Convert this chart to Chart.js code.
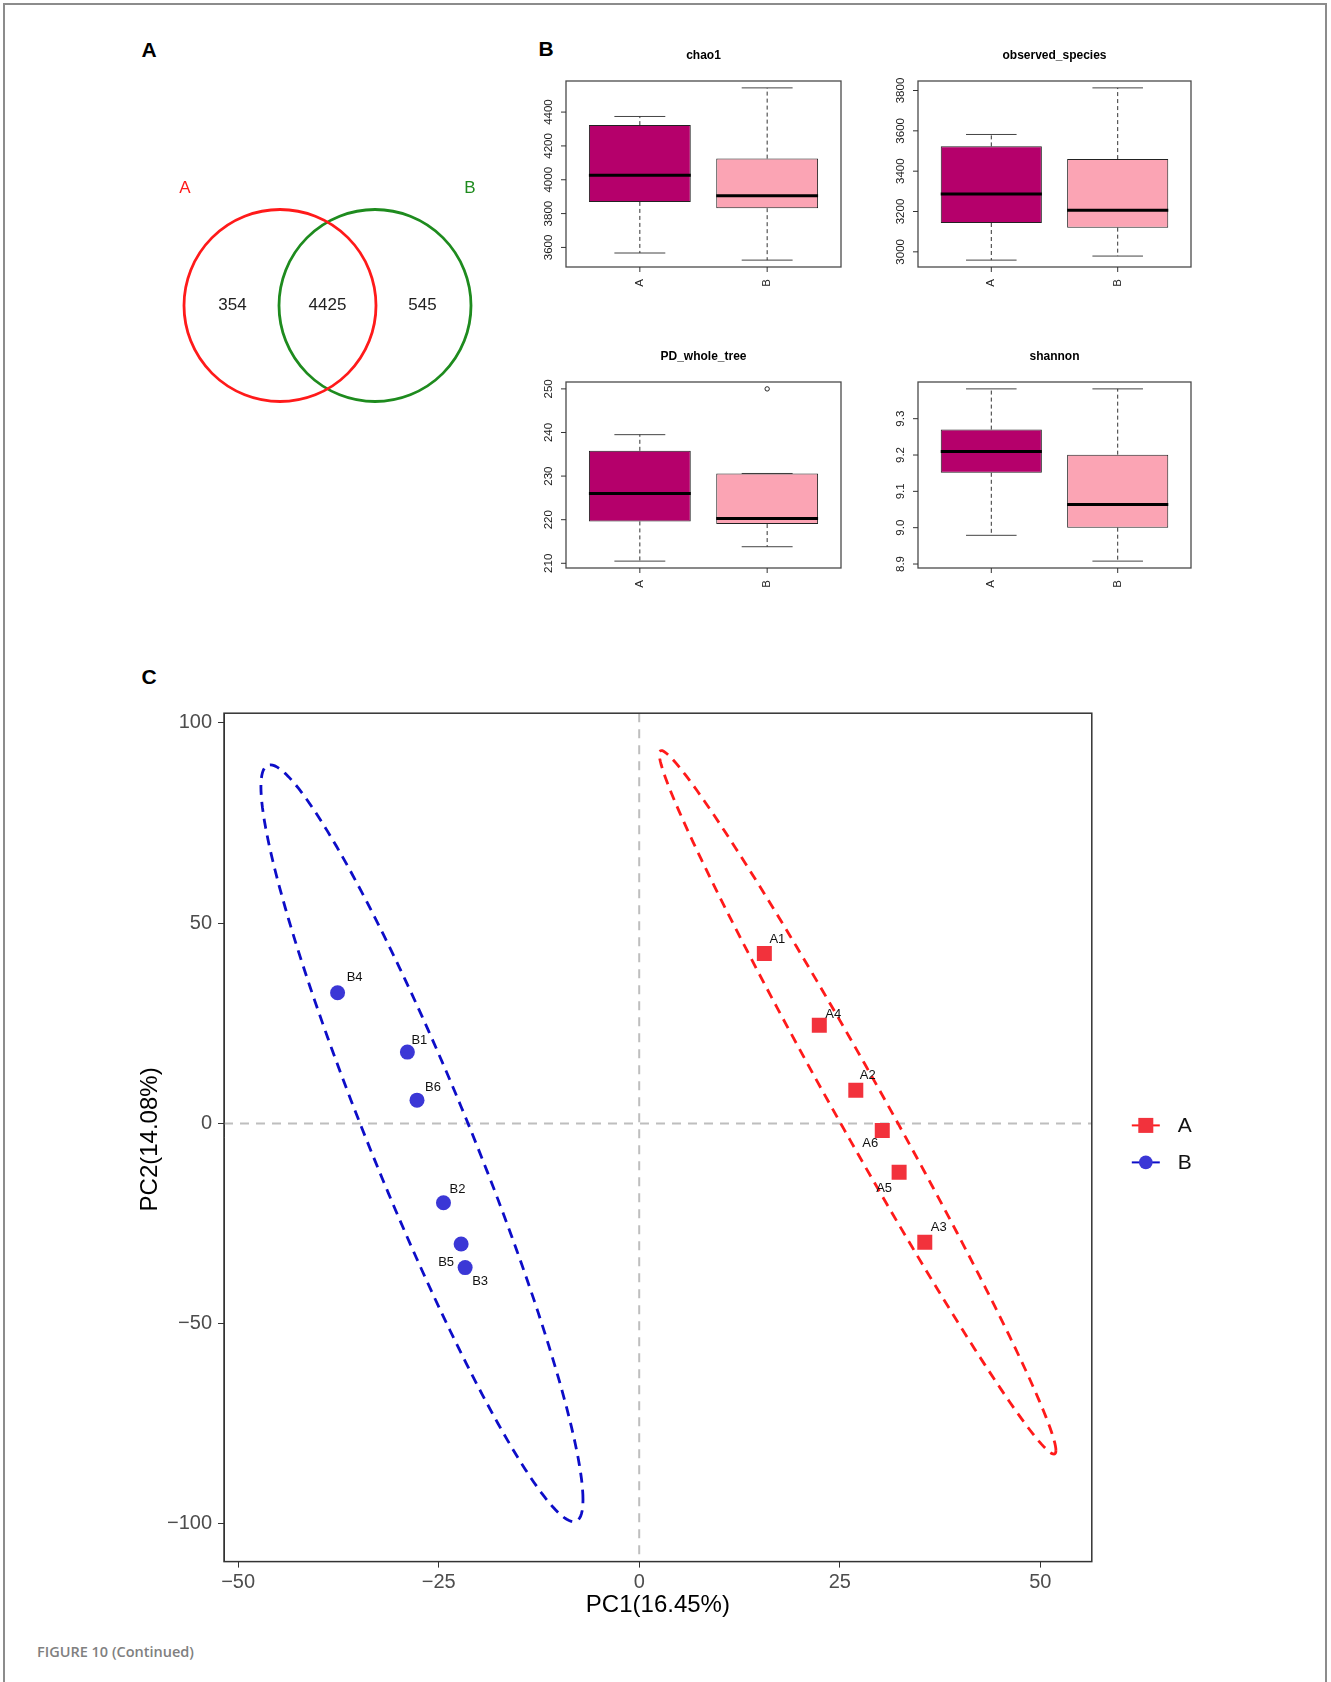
<!DOCTYPE html>
<html>
<head>
<meta charset="utf-8">
<script src="https://cdn.jsdelivr.net/npm/chart.js@4.4.0/dist/chart.umd.min.js"></script>
<style>
  body { margin: 0; background: #fff; }
  #page { position: relative; width: 1331px; height: 1682px; overflow: hidden; font-family: "Liberation Sans", Arial, sans-serif; }
  #frame { position: absolute; left: 3px; top: 3px; width: 1320px; height: 1720px; border: 2px solid #8c8c8c; }
  .tag { position: absolute; font-weight: bold; font-size: 21px; transform: translate(-50%, -50%); color: #000; }
  canvas { position: absolute; }
  #caption { position: absolute; left: 37px; top: 1642px; font-family: "Open Sans", sans-serif; font-weight: 600; font-size: 14.5px; color: #808080; }
</style>
</head>
<body>
<div id="page">
  <div id="frame"></div>
  <div class="tag" style="left:149px; top:50px">A</div>
  <div class="tag" style="left:546px; top:49px">B</div>
  <div class="tag" style="left:149px; top:677px">C</div>
  <div id="caption">FIGURE 10 (Continued)</div>
</div>
<script>
// ---- panel A : venn
const vennSets = ['A', 'B'];
const vennCounts = [354, 4425, 545]; // A only, shared, B only

// ---- panel B : alpha diversity, [lower whisker, Q1, median, Q3, upper whisker]
const boxGroups = ['A', 'B'];
const boxMetrics = ['chao1', 'observed_species', 'PD_whole_tree', 'shannon'];
const chao1A = [3567, 3869, 4027, 4323, 4374];
const chao1B = [3525, 3832, 3905, 4125, 4543];
const observedA = [2959, 3143, 3287, 3523, 3582];
const observedB = [2979, 3120, 3206, 3460, 3813];
const pdA = [210.5, 219.6, 226.0, 235.8, 239.5];
const pdB = [213.8, 219.0, 220.3, 230.6, 230.6];
const pdOutliersB = [250.0];
const shannonA = [8.979, 9.151, 9.210, 9.270, 9.382];
const shannonB = [8.908, 9.000, 9.064, 9.201, 9.382];
const chao1Ticks = [3600, 3800, 4000, 4200, 4400];
const observedTicks = [3000, 3200, 3400, 3600, 3800];
const pdTicks = [210, 220, 230, 240, 250];
const shannonTicks = [8.9, 9.0, 9.1, 9.2, 9.3];

// ---- panel C : PCA
const sampleA = ['A1', 'A2', 'A3', 'A4', 'A5', 'A6'];
const pc1A = [15.6, 27.0, 35.6, 22.45, 32.4, 30.3];
const pc2A = [42.4, 8.3, -29.7, 24.5, -12.2, -1.8];
const sampleB = ['B1', 'B2', 'B3', 'B4', 'B5', 'B6'];
const pc1B = [-28.9, -24.4, -21.7, -37.6, -22.2, -27.7];
const pc2B = [17.8, -19.8, -36.0, 32.6, -30.1, 5.8];
const pc1Ticks = [-50, -25, 0, 25, 50];
const pc2Ticks = [-100, -50, 0, 50, 100];
const pcAxisTitles = ['PC1(16.45%)', 'PC2(14.08%)'];

// label nudges in px (like ggrepel put them)
const labelNudge = {
  A1: [13, -14], A2: [12, -15], A3: [14, -15], A4: [14, -11], A5: [-15, 16], A6: [-12, 13],
  B1: [12, -12], B2: [14, -13], B3: [15, 14], B4: [17, -15], B5: [-15, 18], B6: [16, -13]
};

const FONT = '"Liberation Sans", Arial, sans-serif';
const page = document.getElementById('page');

function addCanvas(id, left, top, w, h) {
  const c = document.createElement('canvas');
  c.id = id;
  c.width = w; c.height = h;
  c.style.left = left + 'px'; c.style.top = top + 'px';
  c.style.width = w + 'px'; c.style.height = h + 'px';
  page.appendChild(c);
  return c;
}

const baseOpts = {
  responsive: false,
  animation: false,
  events: [],
  plugins: { legend: { display: false }, tooltip: { enabled: false } }
};

// ================= Venn =================
const VENN_UNIT = 95;   // px between circle centres
const VENN_R = 96;      // circle radius px
const vennColors = ['#FF1A1A', '#1E8B1E'];
const vennW = 400, vennH = 280, vennCx = 199.5, vennCy = 155.5;

const vennText = {
  id: 'vennText',
  afterDraw(chart) {
    const { ctx, scales: { x, y } } = chart;
    ctx.save();
    ctx.textAlign = 'center';
    ctx.textBaseline = 'middle';
    ctx.font = '17px ' + FONT;
    ctx.fillStyle = '#222';
    vennCounts.forEach((n, i) => {
      ctx.fillText(String(n), x.getPixelForValue(i - 1), y.getPixelForValue(0));
    });
    vennSets.forEach((s, i) => {
      ctx.fillStyle = vennColors[i];
      ctx.fillText(s, x.getPixelForValue(i === 0 ? -1.5 : 1.5), y.getPixelForValue(1.234));
    });
    ctx.restore();
  }
};

new Chart(addCanvas('venn', 128, 150, vennW, vennH), {
  type: 'scatter',
  data: {
    datasets: vennSets.map((s, i) => ({
      label: s,
      data: [{ x: i === 0 ? -0.5 : 0.5, y: 0 }],
      pointRadius: VENN_R,
      pointStyle: 'circle',
      pointBackgroundColor: 'rgba(0,0,0,0)',
      pointBorderColor: vennColors[i],
      pointBorderWidth: 2.8,
      clip: false
    }))
  },
  options: {
    ...baseOpts,
    layout: { padding: 0, autoPadding: false },
    scales: {
      x: { type: 'linear', display: false, min: -vennCx / VENN_UNIT, max: (vennW - vennCx) / VENN_UNIT },
      y: { type: 'linear', display: false, min: -(vennH - vennCy) / VENN_UNIT, max: vennCy / VENN_UNIT }
    }
  },
  plugins: [vennText]
});

// ================= Boxplots =================
const BOX_FILLS = ['#B5006B', '#FBA4B4'];
const BOX_WIDTH = 0.8;
const PAD = { l: 50, t: 45, r: 10, b: 35 };

const boxPanels = [
  { id: 'bx1', title: boxMetrics[0], stats: [chao1A, chao1B], outliers: [[], []], ticks: chao1Ticks, digits: 0, frame: { l: 566, t: 81, r: 841, b: 267 } },
  { id: 'bx2', title: boxMetrics[1], stats: [observedA, observedB], outliers: [[], []], ticks: observedTicks, digits: 0, frame: { l: 918, t: 81, r: 1191, b: 267 } },
  { id: 'bx3', title: boxMetrics[2], stats: [pdA, pdB], outliers: [[], pdOutliersB], ticks: pdTicks, digits: 0, frame: { l: 566, t: 382, r: 841, b: 568 } },
  { id: 'bx4', title: boxMetrics[3], stats: [shannonA, shannonB], outliers: [[], []], ticks: shannonTicks, digits: 1, frame: { l: 918, t: 382, r: 1191, b: 568 } }
];
const panelByCanvas = {};

function rotatedText(ctx, text, x, y) {
  ctx.save();
  ctx.translate(x, y);
  ctx.rotate(-Math.PI / 2);
  ctx.fillText(text, 0, 0);
  ctx.restore();
}

const boxAxes = {
  id: 'boxAxes',
  afterDraw(chart) {
    const cfg = panelByCanvas[chart.canvas.id];
    const { ctx, chartArea: a, scales: { x, y } } = chart;
    ctx.save();
    ctx.strokeStyle = '#4a4a4a';
    ctx.lineWidth = 1.3;
    ctx.strokeRect(a.left, a.top, a.right - a.left, a.bottom - a.top);
    ctx.strokeStyle = '#333';
    ctx.lineWidth = 1;
    ctx.fillStyle = '#222';
    ctx.font = '11.5px ' + FONT;
    ctx.textAlign = 'center';
    ctx.textBaseline = 'middle';
    cfg.ticks.forEach(v => {
      const py = y.getPixelForValue(v);
      ctx.beginPath(); ctx.moveTo(a.left - 5, py); ctx.lineTo(a.left, py); ctx.stroke();
      rotatedText(ctx, v.toFixed(cfg.digits), a.left - 17, py);
    });
    boxGroups.forEach((g, i) => {
      const px = x.getPixelForValue(i + 1);
      ctx.beginPath(); ctx.moveTo(px, a.bottom); ctx.lineTo(px, a.bottom + 5); ctx.stroke();
      rotatedText(ctx, g, px, a.bottom + 16);
    });
    ctx.fillStyle = '#000';
    ctx.font = 'bold 12px ' + FONT;
    ctx.fillText(cfg.title, (a.left + a.right) / 2, a.top - 25);
    ctx.restore();
  }
};

function seg(points, extra) {
  return Object.assign({ type: 'line', data: points, pointRadius: 0, borderWidth: 1, borderColor: '#333', fill: false, tension: 0 }, extra);
}

boxPanels.forEach(p => {
  panelByCanvas[p.id] = p;
  const f = p.frame;
  const cw = (f.r - f.l) + PAD.l + PAD.r;
  const ch = (f.b - f.t) + PAD.t + PAD.b;
  const canvas = addCanvas(p.id, f.l - PAD.l, f.t - PAD.t, cw, ch);

  const all = p.stats.flat().concat(p.outliers.flat());
  const lo = Math.min(...all), hi = Math.max(...all);
  const ext = (hi - lo) * 0.04;
  const xlo = 0.5 - 0.04 * boxGroups.length, xhi = boxGroups.length + 0.5 + 0.04 * boxGroups.length;

  const datasets = [];
  p.stats.forEach((s, i) => {
    datasets.push(seg([{ x: i + 1 - BOX_WIDTH / 2, y: s[2] }, { x: i + 1 + BOX_WIDTH / 2, y: s[2] }],
      { borderColor: '#000', borderWidth: 3, order: 0 }));
  });
  datasets.push({
    type: 'bar',
    data: p.stats.map((s, i) => ({ x: i + 1, y: [s[1], s[3]] })),
    backgroundColor: BOX_FILLS,
    borderColor: '#222',
    borderWidth: 1,
    borderSkipped: false,
    barPercentage: BOX_WIDTH,
    categoryPercentage: 1,
    order: 1
  });
  p.stats.forEach((s, i) => {
    const cx = i + 1;
    [[s[3], s[4]], [s[1], s[0]]].forEach(([from, to]) => {
      datasets.push(seg([{ x: cx, y: from }, { x: cx, y: to }], { borderDash: [4, 3], order: 2 }));
      datasets.push(seg([{ x: cx - BOX_WIDTH / 4, y: to }, { x: cx + BOX_WIDTH / 4, y: to }], { borderColor: '#444', order: 2 }));
    });
    if (p.outliers[i].length) {
      datasets.push({
        type: 'line', showLine: false,
        data: p.outliers[i].map(v => ({ x: cx, y: v })),
        pointRadius: 2.2, pointStyle: 'circle', pointBorderWidth: 1,
        pointBorderColor: '#222', pointBackgroundColor: 'rgba(0,0,0,0)', order: 0
      });
    }
  });

  new Chart(canvas, {
    type: 'bar',
    data: { datasets },
    options: {
      ...baseOpts,
      layout: { padding: { left: PAD.l, right: PAD.r, top: PAD.t, bottom: PAD.b }, autoPadding: false },
      scales: {
        x: {
          type: 'linear', display: false, offset: false, min: xlo, max: xhi,
          afterBuildTicks: s => { s.ticks = boxGroups.map((g, i) => ({ value: i + 1 })); }
        },
        y: { type: 'linear', display: false, min: lo - ext, max: hi + ext }
      }
    },
    plugins: [boxAxes]
  });
});

// ================= PCA =================
const ELLIPSE_SCALE = 3.40; // sqrt(2 * qf(0.95, 2, n - 1)) with n = 6, as stat_ellipse
const groupColors = {
  A: { line: '#FF1A1A', point: '#F2323C' },
  B: { line: '#0D0DC8', point: '#3B37D6' }
};

function ellipsePath(xs, ys, scale) {
  const n = xs.length;
  const mx = xs.reduce((a, b) => a + b, 0) / n;
  const my = ys.reduce((a, b) => a + b, 0) / n;
  let sxx = 0, syy = 0, sxy = 0;
  for (let i = 0; i < n; i++) {
    sxx += (xs[i] - mx) ** 2;
    syy += (ys[i] - my) ** 2;
    sxy += (xs[i] - mx) * (ys[i] - my);
  }
  sxx /= n - 1; syy /= n - 1; sxy /= n - 1;
  const a = Math.sqrt(sxx), b = sxy / a, c = Math.sqrt(syy - b * b);
  const pts = [];
  for (let k = 0; k <= 180; k++) {
    const t = k / 180 * 2 * Math.PI;
    const u = Math.cos(t), v = Math.sin(t);
    pts.push({ x: mx + scale * a * u, y: my + scale * (b * u + c * v) });
  }
  return pts;
}

const minusFmt = v => (v < 0 ? '\u2212' + Math.abs(v) : String(v));

const pcaDecor = {
  id: 'pcaDecor',
  beforeDatasetsDraw(chart) {
    const { ctx, chartArea: a, scales: { x, y } } = chart;
    ctx.save();
    ctx.strokeStyle = '#BEBEBE';
    ctx.lineWidth = 2;
    ctx.setLineDash([9, 7]);
    const x0 = x.getPixelForValue(0), y0 = y.getPixelForValue(0);
    ctx.beginPath(); ctx.moveTo(x0, a.top); ctx.lineTo(x0, a.bottom); ctx.stroke();
    ctx.beginPath(); ctx.moveTo(a.left, y0); ctx.lineTo(a.right, y0); ctx.stroke();
    ctx.restore();
  },
  afterDatasetsDraw(chart) {
    const { ctx, chartArea: a } = chart;
    ctx.save();
    ctx.font = '13px ' + FONT;
    ctx.fillStyle = '#111';
    ctx.textAlign = 'center';
    ctx.textBaseline = 'middle';
    chart.data.datasets.forEach((ds, i) => {
      if (!ds.sampleNames) return;
      chart.getDatasetMeta(i).data.forEach((pt, j) => {
        const name = ds.sampleNames[j];
        const off = labelNudge[name] || [12, -12];
        ctx.fillText(name, pt.x + off[0], pt.y + off[1]);
      });
    });
    ctx.strokeStyle = '#333';
    ctx.lineWidth = 1.5;
    ctx.strokeRect(a.left, a.top, a.right - a.left, a.bottom - a.top);
    ctx.restore();
  },
  afterDraw(chart) {
    const { ctx, chartArea: a } = chart;
    ctx.save();
    ctx.fillStyle = '#000';
    ctx.font = '24px ' + FONT;
    ctx.textAlign = 'center';
    ctx.textBaseline = 'middle';
    ctx.fillText(pcAxisTitles[0], (a.left + a.right) / 2, a.bottom + 44);
    rotatedText(ctx, pcAxisTitles[1], 150, (a.top + a.bottom) / 2 + 2);
    // legend
    const lx = a.right + 54;
    const pointSets = chart.data.datasets.filter(d => d.sampleNames);
    pointSets.forEach((ds, k) => {
      const ly = (a.top + a.bottom) / 2 - 12 + k * 37;
      ctx.strokeStyle = ds.legendLine;
      ctx.lineWidth = 2;
      ctx.setLineDash([]);
      ctx.beginPath(); ctx.moveTo(lx - 14, ly); ctx.lineTo(lx + 14, ly); ctx.stroke();
      ctx.fillStyle = ds.pointBackgroundColor;
      if (ds.pointStyle === 'rect') {
        ctx.fillRect(lx - 7.5, ly - 7.5, 15, 15);
      } else {
        ctx.beginPath(); ctx.arc(lx, ly, 6.8, 0, Math.PI * 2); ctx.fill();
      }
      ctx.fillStyle = '#111';
      ctx.font = '21px ' + FONT;
      ctx.textAlign = 'left';
      ctx.fillText(ds.label, lx + 32, ly + 1);
    });
    ctx.restore();
  }
};

const pcaTop = 640, pcaH = 1000;
const plotBox = { l: 224, r: 1091.8, t: 713.2, b: 1561.6 };
const Y_AXIS_W = 80, X_AXIS_H = 60;

new Chart(addCanvas('pca', 0, pcaTop, 1331, pcaH), {
  type: 'scatter',
  data: {
    datasets: [
      {
        label: 'ellipse A', data: ellipsePath(pc1A, pc2A, ELLIPSE_SCALE), showLine: true,
        borderColor: groupColors.A.line, borderWidth: 2.8, borderDash: [10, 7], pointRadius: 0, fill: false, order: 2
      },
      {
        label: 'ellipse B', data: ellipsePath(pc1B, pc2B, ELLIPSE_SCALE), showLine: true,
        borderColor: groupColors.B.line, borderWidth: 2.8, borderDash: [10, 7], pointRadius: 0, fill: false, order: 2
      },
      {
        label: 'A', data: pc1A.map((v, i) => ({ x: v, y: pc2A[i] })), sampleNames: sampleA,
        pointStyle: 'rect', pointRadius: 10.6, pointBackgroundColor: groupColors.A.point, pointBorderWidth: 0,
        legendLine: groupColors.A.line, order: 0
      },
      {
        label: 'B', data: pc1B.map((v, i) => ({ x: v, y: pc2B[i] })), sampleNames: sampleB,
        pointStyle: 'circle', pointRadius: 7.5, pointBackgroundColor: groupColors.B.point, pointBorderWidth: 0,
        legendLine: groupColors.B.line, order: 0
      }
    ]
  },
  options: {
    ...baseOpts,
    layout: {
      autoPadding: false,
      padding: {
        left: plotBox.l - Y_AXIS_W,
        right: 1331 - plotBox.r,
        top: plotBox.t - pcaTop,
        bottom: pcaH - (plotBox.b - pcaTop) - X_AXIS_H
      }
    },
    scales: {
      x: {
        type: 'linear', min: -51.76, max: 56.42, bounds: 'data',
        afterBuildTicks: s => { s.ticks = pc1Ticks.map(v => ({ value: v })); },
        afterFit: s => { s.height = X_AXIS_H; },
        ticks: { callback: minusFmt, color: '#4D4D4D', font: { family: FONT, size: 20 }, padding: 3, maxRotation: 0 },
        grid: { display: true, drawOnChartArea: false, drawTicks: true, tickLength: 6, color: '#333' },
        border: { display: true, color: '#333', width: 1 }
      },
      y: {
        type: 'linear', min: -109.4, max: 102.4, bounds: 'data',
        afterBuildTicks: s => { s.ticks = pc2Ticks.map(v => ({ value: v })); },
        afterFit: s => { s.width = Y_AXIS_W; },
        ticks: { callback: minusFmt, color: '#4D4D4D', font: { family: FONT, size: 20 }, padding: 6 },
        grid: { display: true, drawOnChartArea: false, drawTicks: true, tickLength: 6, color: '#333' },
        border: { display: true, color: '#333', width: 1 }
      }
    }
  },
  plugins: [pcaDecor]
});
</script>
</body>
</html>
